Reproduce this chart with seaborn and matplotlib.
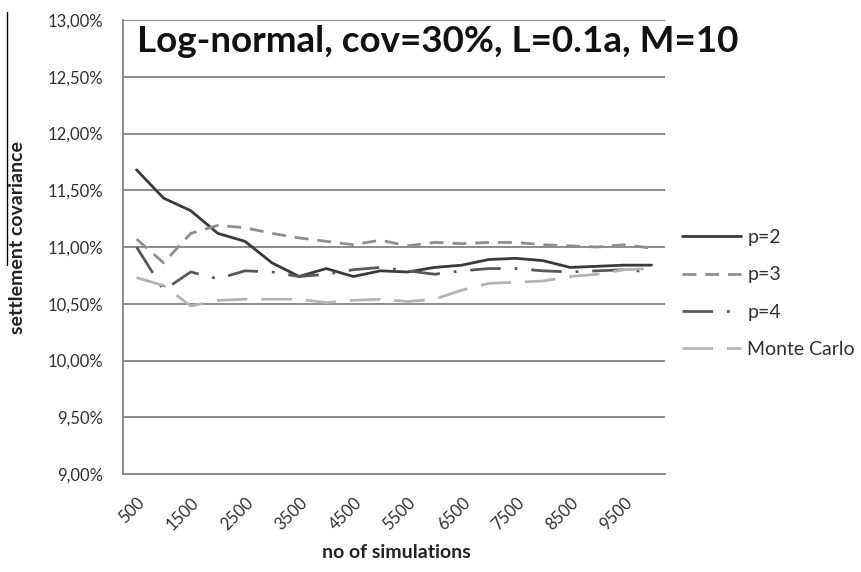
import numpy as np
import pandas as pd
import matplotlib
matplotlib.use("Agg")
import matplotlib.pyplot as plt
import seaborn as sns
from matplotlib.ticker import FixedLocator, FuncFormatter
from matplotlib.lines import Line2D

# ---- data ----
simulations = [500, 1000, 1500, 2000, 2500, 3000, 3500, 4000, 4500, 5000,
               5500, 6000, 6500, 7000, 7500, 8000, 8500, 9000, 9500, 10000]
p2 = [11.68, 11.43, 11.32, 11.12, 11.05, 10.86, 10.74, 10.81, 10.74, 10.79,
      10.78, 10.82, 10.84, 10.89, 10.90, 10.88, 10.82, 10.83, 10.84, 10.84]
p3 = [11.07, 10.86, 11.12, 11.19, 11.17, 11.12, 11.08, 11.05, 11.02, 11.06,
      11.01, 11.04, 11.03, 11.04, 11.04, 11.02, 11.01, 11.00, 11.02, 10.99]
p4 = [11.00, 10.62, 10.78, 10.72, 10.79, 10.78, 10.74, 10.76, 10.80, 10.82,
      10.79, 10.76, 10.79, 10.81, 10.81, 10.79, 10.78, 10.79, 10.80, 10.78]
monte_carlo = [10.73, 10.66, 10.48, 10.53, 10.54, 10.54, 10.54, 10.51, 10.53, 10.54,
               10.52, 10.54, 10.62, 10.68, 10.69, 10.70, 10.74, 10.76, 10.80, 10.81]
series_names = ["p=2", "p=3", "p=4", "Monte Carlo"]
xtick_labels = [500, 1500, 2500, 3500, 4500, 5500, 6500, 7500, 8500, 9500]

title = "Log-normal, cov=30%, L=0.1a, M=10"
xlabel = "no of simulations"
ylabel = "settlement covariance"

df = pd.DataFrame({
    "n": simulations * 4,
    "value": p2 + p3 + p4 + monte_carlo,
    "series": sum([[s] * len(simulations) for s in series_names], []),
})

sns.set_style("white")
plt.rcParams["font.family"] = ["Lato", "DejaVu Sans"]

W, H = 862, 572
fig = plt.figure(figsize=(W / 100, H / 100), dpi=100)
ax = fig.add_axes([123 / W, 1 - 474 / H, (665 - 123) / W, (474 - 20) / H])

palette = {"p=2": "#3a3a3a", "p=3": "#8e8e8e", "p=4": "#585858", "Monte Carlo": "#b4b4b4"}
dashes = {"p=2": "", "p=3": (5, 3.2), "p=4": (11, 5, 1, 5), "Monte Carlo": (11, 5)}

sns.lineplot(data=df, x="n", y="value", hue="series", style="series",
             hue_order=series_names, style_order=series_names,
             palette=palette, dashes=dashes, linewidth=2.0, ax=ax,
             legend="full", zorder=3)

ax.set_xlim(250, 10250)
ax.set_ylim(9.0, 13.0)

grid_color = "#8c8c8c"
text_color = "#303030"
ax.set_yticks(np.arange(9.0, 13.01, 0.5))
ax.yaxis.set_major_formatter(FuncFormatter(lambda v, p: f"{v:.2f}%".replace(".", ",")))
ax.grid(axis="y", color=grid_color, linewidth=1.4, zorder=0)
ax.grid(axis="x", visible=False)

ax.xaxis.set_major_locator(FixedLocator(xtick_labels))
ax.set_xticklabels([str(v) for v in xtick_labels], rotation=45, ha="right",
                   rotation_mode="anchor", fontsize=12, color=text_color)
ax.xaxis.set_minor_locator(FixedLocator(np.arange(250, 10251, 500)))
ax.tick_params(axis="x", which="major", length=0, pad=15)
ax.tick_params(axis="x", which="minor", length=8, width=1.4, color=grid_color, direction="out")
ax.tick_params(axis="y", which="major", length=10, width=1.4, color=grid_color,
               direction="inout", labelsize=12, labelcolor=text_color, pad=9)

for s in ["top", "right"]:
    ax.spines[s].set_visible(False)
for s in ["left", "bottom"]:
    ax.spines[s].set_color(grid_color)
    ax.spines[s].set_linewidth(1.4)

ax.set_xlabel("")
ax.set_ylabel("")

fig.text(396 / W, 1 - 553 / H, xlabel, ha="center", va="center",
         fontsize=14, fontweight="bold", color="#222222")
fig.text(18 / W, 1 - 238 / H, ylabel, ha="center", va="center", rotation=90,
         fontsize=14, fontweight="bold", color="#222222")
fig.text(137 / W, 1 - 52 / H, title, ha="left", va="baseline",
         fontsize=26.5, fontweight="bold", color="#111111")

handles, labels = ax.get_legend_handles_labels()
leg = ax.legend(handles, labels, loc="upper left", bbox_to_anchor=(682 / W, 1 - 229 / H),
                bbox_transform=fig.transFigure, frameon=False, fontsize=14,
                handlelength=3.05, handletextpad=0.3, labelspacing=1.05, borderaxespad=0,
                borderpad=0)
for t in leg.get_texts():
    t.set_color(text_color)

# scan artifact: thin vertical black line at far left
fig.add_artist(Line2D([7 / W, 7 / W], [1 - 12 / H, 1 - 265 / H], transform=fig.transFigure,
                      color="black", linewidth=1.0))

fig.savefig("out.png", dpi=100)
